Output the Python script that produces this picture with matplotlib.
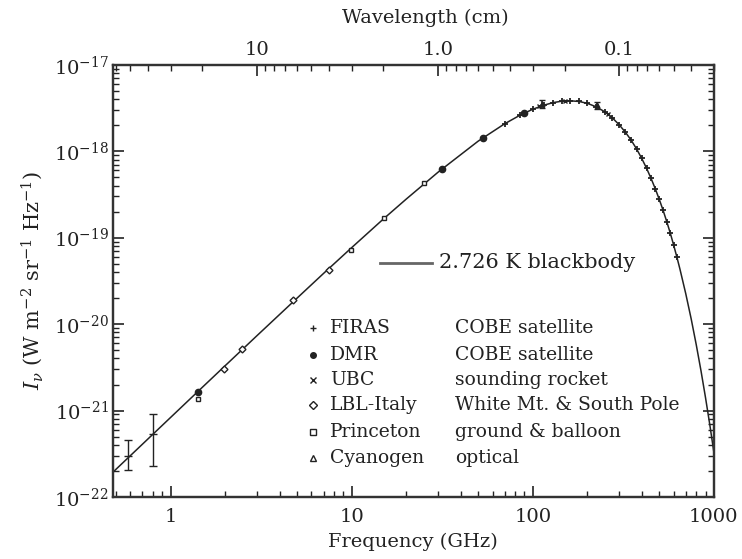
import numpy as np
import matplotlib
matplotlib.use("Agg")
import matplotlib.pyplot as plt
from matplotlib.ticker import LogLocator, NullFormatter, FixedLocator

plt.rcParams['font.family'] = ['DejaVu Serif']
plt.rcParams['mathtext.fontset'] = 'dejavuserif'

# 2.726 K blackbody curve (GHz, W m^-2 sr^-1 Hz^-1)
nu_curve = [0.48, 0.5, 0.7, 1, 1.5, 2, 3, 5, 7, 10, 15, 20, 30, 50, 70, 85, 100, 115,
            130, 145, 160, 180, 200, 225, 250, 275, 300, 325, 350, 375, 400, 425, 450,
            475, 500, 525, 550, 575, 600, 625, 650, 700, 750, 800, 850, 900, 950, 1000]
I_curve = [1.92e-22, 2.09e-22, 4.08e-22, 8.30e-22, 1.86e-21, 3.29e-21, 7.34e-21, 2.00e-20,
           3.86e-20, 7.66e-20, 1.65e-19, 2.79e-19, 5.72e-19, 1.31e-18, 2.08e-18, 2.61e-18,
           3.06e-18, 3.41e-18, 3.66e-18, 3.80e-18, 3.84e-18, 3.77e-18, 3.59e-18, 3.26e-18,
           2.86e-18, 2.44e-18, 2.03e-18, 1.66e-18, 1.34e-18, 1.06e-18, 8.26e-19, 6.38e-19,
           4.87e-19, 3.69e-19, 2.77e-19, 2.07e-19, 1.53e-19, 1.13e-19, 8.23e-20, 5.99e-20,
           4.34e-20, 2.25e-20, 1.15e-20, 5.77e-21, 2.87e-21, 1.41e-21, 6.89e-22, 3.33e-22]

# FIRAS (+)
firas_nu = [70, 85, 100, 115, 130, 145, 160, 180, 200, 225, 250, 275, 300, 325, 350,
            375, 400, 425, 450, 475, 500, 525, 550, 575, 600, 625]
firas_I = [2.08e-18, 2.61e-18, 3.06e-18, 3.41e-18, 3.66e-18, 3.80e-18, 3.84e-18, 3.77e-18,
           3.59e-18, 3.26e-18, 2.86e-18, 2.44e-18, 2.03e-18, 1.66e-18, 1.34e-18, 1.06e-18,
           8.26e-19, 6.38e-19, 4.87e-19, 3.69e-19, 2.77e-19, 2.07e-19, 1.53e-19, 1.13e-19,
           8.23e-20, 5.99e-20]

# DMR (filled dots)
dmr_nu = [1.42, 31.5, 53, 90]
dmr_I = [1.66e-21, 6.22e-19, 1.42e-18, 2.77e-18]

# UBC (x)
ubc_nu = [108, 150, 260]
ubc_I = [3.3e-18, 3.82e-18, 2.7e-18]

# LBL-Italy (diamonds)
lbl_nu = [1.97, 2.49, 4.76, 7.5]
lbl_I = [3.03e-21, 5.2e-21, 1.9e-20, 4.24e-20]

# Princeton (squares)
pr_nu = [1.42, 9.87, 15.1, 25.1]
pr_I = [1.36e-21, 7.2e-20, 1.68e-19, 4.27e-19]

# low frequency points with large error bars
eb_nu = [0.586, 0.80]
eb_I = [3.0e-22, 5.4e-22]
eb_lo = [2.05e-22, 2.3e-22]
eb_hi = [4.57e-22, 9.06e-22]

# Cyanogen (triangles)
cn_nu = [113, 227]
cn_I = [3.55e-18, 3.4e-18]
cn_err = [0.35e-18, 0.3e-18]

# top axis: wavelength (cm) ticks
lam_major = [10, 1.0, 0.1]
lam_labels = ['10', '1.0', '0.1']
lam_minor = [60, 50, 40, 30, 20, 9, 8, 7, 6, 5, 4, 3, 2, 0.9, 0.8, 0.7, 0.6, 0.5, 0.4,
             0.3, 0.2, 0.09, 0.08, 0.07, 0.06, 0.05, 0.04, 0.03]

legend_names = ['FIRAS', 'DMR', 'UBC', 'LBL-Italy', 'Princeton', 'Cyanogen']
legend_desc = ['COBE satellite', 'COBE satellite', 'sounding rocket',
               'White Mt. & South Pole', 'ground & balloon', 'optical']
legend_marks = ['+', 'o', 'x', 'D', 's', '^']

ink = '#222222'
FS = 14

fig = plt.figure(figsize=(7.42, 5.59), dpi=100)
ax = fig.add_axes([0.152, 0.111, 0.81, 0.773])

ax.plot(nu_curve, I_curve, color=ink, lw=1.1, zorder=2)
ax.plot(firas_nu, firas_I, '+', color=ink, ms=5, mew=1.3, zorder=3)
ax.plot(dmr_nu, dmr_I, 'o', color=ink, ms=4.5, zorder=3)
ax.plot(ubc_nu, ubc_I, 'x', color=ink, ms=3.5, mew=1, zorder=3)
ax.plot(lbl_nu, lbl_I, 'D', mfc='white', mec=ink, ms=3.5, mew=1, zorder=3)
ax.plot(pr_nu, pr_I, 's', mfc='white', mec=ink, ms=3.5, mew=1, zorder=3)
ax.errorbar(eb_nu, eb_I,
            yerr=[np.array(eb_I) - np.array(eb_lo), np.array(eb_hi) - np.array(eb_I)],
            fmt='_', color=ink, ms=6, elinewidth=1, capsize=3, capthick=1, zorder=3)
ax.errorbar(cn_nu, cn_I, yerr=cn_err, fmt='^', color=ink, ms=3.5, elinewidth=1.2,
            capsize=2, zorder=3)

ax.set_xscale('log')
ax.set_yscale('log')
ax.set_xlim(0.48, 1000)
ax.set_ylim(1e-22, 1e-17)

ax.set_xticks([1, 10, 100, 1000])
ax.set_xticklabels(['1', '10', '100', '1000'])
ax.set_yticks([1e-22, 1e-21, 1e-20, 1e-19, 1e-18, 1e-17])
ax.set_yticklabels([r'$10^{-22}$', r'$10^{-21}$', r'$10^{-20}$', r'$10^{-19}$',
                    r'$10^{-18}$', r'$10^{-17}$'])
ax.xaxis.set_minor_locator(LogLocator(base=10, subs=np.arange(2, 10), numticks=20))
ax.yaxis.set_minor_locator(LogLocator(base=10, subs=np.arange(2, 10), numticks=20))
ax.xaxis.set_minor_formatter(NullFormatter())
ax.yaxis.set_minor_formatter(NullFormatter())

ax.tick_params(which='both', direction='in', color=ink, labelsize=FS, labelcolor=ink)
ax.tick_params(which='major', length=8, width=1.2)
ax.tick_params(which='minor', length=4, width=1)
ax.tick_params(axis='y', which='both', right=True)
ax.tick_params(axis='x', which='both', top=False)
ax.tick_params(axis='x', pad=8)
ax.tick_params(axis='y', pad=3)
for s in ax.spines.values():
    s.set_linewidth(1.6)
    s.set_color('#333333')

# wavelength axis on top (lambda = c / nu, 30 cm GHz)
ax2 = ax.twiny()
ax2.set_xscale('log')
ax2.set_xlim(ax.get_xlim())
ax2.xaxis.set_major_locator(FixedLocator([30.0 / l for l in lam_major]))
ax2.set_xticklabels(lam_labels)
ax2.xaxis.set_minor_locator(FixedLocator([30.0 / l for l in lam_minor]))
ax2.xaxis.set_minor_formatter(NullFormatter())
ax2.tick_params(which='both', direction='in', color=ink, labelsize=FS, labelcolor=ink)
ax2.tick_params(which='major', length=8, width=1.2, pad=4)
ax2.tick_params(which='minor', length=4, width=1)
for s in ax2.spines.values():
    s.set_linewidth(1.6)
    s.set_color('#333333')

ax.set_xlabel('Frequency (GHz)', fontsize=FS, color=ink, labelpad=5)
ax.set_ylabel(r'$I_\nu$ (W m$^{-2}$ sr$^{-1}$ Hz$^{-1}$)', fontsize=FS + 1, color=ink,
              labelpad=6)
ax.text(0.52, 1.109, 'Wavelength (cm)', transform=ax.transAxes, ha='center',
        va='center', fontsize=FS, color=ink)

# key
ax.plot([0.444, 0.531], [0.542, 0.542], transform=ax.transAxes, color='#666666', lw=2)
ax.text(0.543, 0.542, '2.726 K blackbody', transform=ax.transAxes, va='center',
        fontsize=15, color=ink)
row_y = [0.391, 0.329, 0.271, 0.213, 0.150, 0.090]
for yy, nm, ds, mk in zip(row_y, legend_names, legend_desc, legend_marks):
    mfc = ink if mk == 'o' else 'white'
    ax.plot([0.333], [yy], mk, transform=ax.transAxes, color=ink, mfc=mfc, mec=ink,
            ms=4, mew=1, clip_on=False)
    ax.text(0.361, yy, nm, transform=ax.transAxes, va='center', fontsize=13.5, color=ink)
    ax.text(0.569, yy, ds, transform=ax.transAxes, va='center', fontsize=13.5, color=ink)

fig.savefig('out.png', dpi=100)
